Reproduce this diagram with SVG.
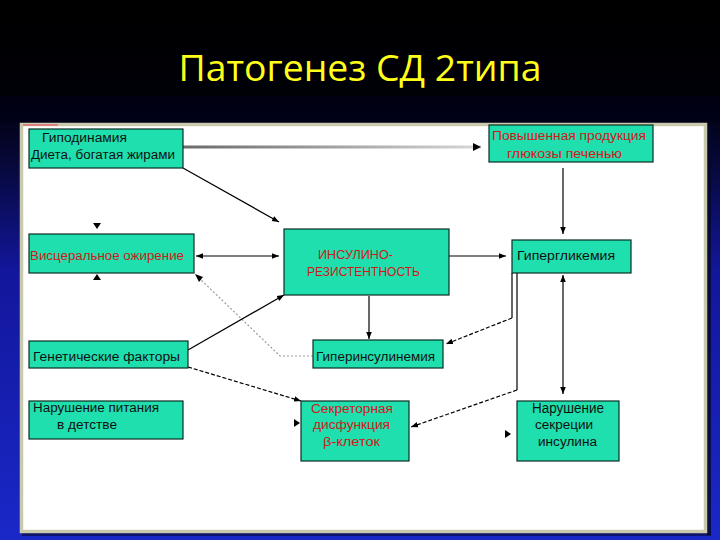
<svg xmlns="http://www.w3.org/2000/svg" width="720" height="540" viewBox="0 0 720 540">
<defs>
<linearGradient id="bg" x1="0" y1="0" x2="0" y2="1">
<stop offset="0" stop-color="#000000"/>
<stop offset="0.18" stop-color="#000008"/>
<stop offset="0.3" stop-color="#070838"/>
<stop offset="0.5" stop-color="#12169a"/>
<stop offset="1" stop-color="#1a28c8"/>
</linearGradient>
<linearGradient id="gg" gradientUnits="userSpaceOnUse" x1="183" y1="0" x2="481" y2="0">
<stop offset="0" stop-color="#6a6a6a"/>
<stop offset="1" stop-color="#d8d8d8"/>
</linearGradient>
<marker id="ah" viewBox="0 0 10 10" refX="10" refY="5" markerWidth="7" markerHeight="7" markerUnits="userSpaceOnUse" orient="auto-start-reverse">
<path d="M0,1 L10,5 L0,9 z" fill="#000"/>
</marker>
<style>
.box{fill:#1fdfae;stroke:#0b2e22;stroke-width:1.2}
.t{font-family:"Liberation Sans",Arial,sans-serif;font-size:12px}
.k{fill:#111}
.r{fill:#d01818}
.c{fill:none;stroke:#000;stroke-width:1.2}
.d{stroke-dasharray:4,2}
.g{fill:none;stroke:#9a9a9a;stroke-width:1.2;stroke-dasharray:2,2}
.oa{fill:#000}
</style>
</defs>
<rect x="0" y="0" width="720" height="540" fill="url(#bg)"/>
<rect x="0" y="96" width="720" height="26" fill="#000018" opacity="0.6"/>
<text x="360" y="81" text-anchor="middle" font-family="'Open Sans','Noto Sans',sans-serif" font-size="36" fill="#ffff1a" textLength="363" lengthAdjust="spacingAndGlyphs">Патогенез СД 2типа</text>
<rect x="707" y="126" width="4" height="409" fill="#05082a" opacity="0.8"/>
<rect x="22" y="533" width="689" height="3" fill="#05082a" opacity="0.6"/>
<rect x="21.5" y="124.5" width="684" height="407" fill="#ffffff" stroke="#c9c9ad" stroke-width="3.5"/>
<line x1="23" y1="125" x2="58" y2="125" stroke="#e08080" stroke-width="2"/>

<g id="connectors">
<line x1="183" y1="147" x2="481" y2="147" stroke="url(#gg)" stroke-width="3"/>
<polygon points="481,147 473,143 473,151" fill="#000"/>
<line class="c" x1="183" y1="168" x2="279" y2="222" marker-end="url(#ah)"/>
<line class="c" x1="196" y1="256" x2="279" y2="256" marker-start="url(#ah)" marker-end="url(#ah)"/>
<polyline class="g" points="313,356 280,356 197,276"/>
<polygon points="195,274 203,277 199,282" fill="#000"/>
<line class="c" x1="188" y1="350" x2="284" y2="295" marker-end="url(#ah)"/>
<line class="c d" x1="188" y1="367" x2="301" y2="401" marker-end="url(#ah)"/>
<line class="c" x1="369" y1="296" x2="369" y2="339" marker-end="url(#ah)"/>
<line class="c" x1="449" y1="256" x2="506" y2="256" marker-end="url(#ah)"/>
<line class="c" x1="563" y1="168" x2="563" y2="234" marker-end="url(#ah)"/>
<polyline class="c" points="512,273 512,318"/>
<line class="c d" x1="512" y1="318" x2="446" y2="344" marker-end="url(#ah)"/>
<polyline class="c" points="517,273 517,390"/>
<line class="c d" x1="517" y1="390" x2="411" y2="427" marker-end="url(#ah)"/>
<line class="c" x1="563" y1="275" x2="563" y2="394" marker-start="url(#ah)" marker-end="url(#ah)"/>
<polygon class="oa" points="93,223 101,223 97,229"/>
<polygon class="oa" points="93,280 101,280 97,274"/>
<polygon class="oa" points="294,419 294,427 300,423"/>
<polygon class="oa" points="505,430 505,438 511,434"/>
</g>

<g id="n-gipodinamiya">
<rect class="box" x="29" y="129" width="154" height="39"/>
<text class="t k" x="42" y="142" textLength="85" lengthAdjust="spacingAndGlyphs">Гиподинамия</text>
<text class="t k" x="31" y="159" textLength="144" lengthAdjust="spacingAndGlyphs">Диета, богатая жирами</text>
</g>
<g id="n-glukoza">
<rect class="box" x="489" y="125" width="164" height="37"/>
<text class="t r" x="492" y="140" textLength="154" lengthAdjust="spacingAndGlyphs">Повышенная продукция</text>
<text class="t r" x="507" y="158" textLength="115" lengthAdjust="spacingAndGlyphs">глюкозы печенью</text>
</g>
<g id="n-visceral">
<rect class="box" x="29" y="234" width="165" height="39"/>
<text class="t r" x="30" y="260" textLength="154" lengthAdjust="spacingAndGlyphs">Висцеральное ожирение</text>
</g>
<g id="n-insres">
<rect class="box" x="284" y="229" width="165" height="66"/>
<text class="t r" x="318" y="259" textLength="75" lengthAdjust="spacingAndGlyphs">ИНСУЛИНО-</text>
<text class="t r" x="307" y="276" textLength="113" lengthAdjust="spacingAndGlyphs">РЕЗИСТЕНТНОСТЬ</text>
</g>
<g id="n-giperglik">
<rect class="box" x="512" y="240" width="119" height="33"/>
<text class="t k" x="517" y="260" textLength="98" lengthAdjust="spacingAndGlyphs">Гипергликемия</text>
</g>
<g id="n-genetic">
<rect class="box" x="29" y="341" width="159" height="27"/>
<text class="t k" x="33" y="361" textLength="147" lengthAdjust="spacingAndGlyphs">Генетические факторы</text>
</g>
<g id="n-giperins">
<rect class="box" x="313" y="340" width="130" height="28"/>
<text class="t k" x="316" y="361" textLength="119" lengthAdjust="spacingAndGlyphs">Гиперинсулинемия</text>
</g>
<g id="n-pitanie">
<rect class="box" x="29" y="401" width="154" height="38"/>
<text class="t k" x="33" y="412" textLength="126" lengthAdjust="spacingAndGlyphs">Нарушение питания</text>
<text class="t k" x="57" y="429" textLength="60" lengthAdjust="spacingAndGlyphs">в детстве</text>
</g>
<g id="n-secretor">
<rect class="box" x="301" y="401" width="108" height="60"/>
<text class="t r" x="311" y="413" textLength="82" lengthAdjust="spacingAndGlyphs">Секреторная</text>
<text class="t r" x="313" y="429" textLength="77" lengthAdjust="spacingAndGlyphs">дисфункция</text>
<text class="t r" x="323" y="446" textLength="57" lengthAdjust="spacingAndGlyphs">β-клеток</text>
</g>
<g id="n-narsecr">
<rect class="box" x="517" y="401" width="102" height="60"/>
<text class="t k" x="532" y="413" textLength="72" lengthAdjust="spacingAndGlyphs" style="font-size:14px">Нарушение</text>
<text class="t k" x="535" y="429" textLength="58" lengthAdjust="spacingAndGlyphs">секреции</text>
<text class="t k" x="538" y="446" textLength="59" lengthAdjust="spacingAndGlyphs">инсулина</text>
</g>
</svg>
